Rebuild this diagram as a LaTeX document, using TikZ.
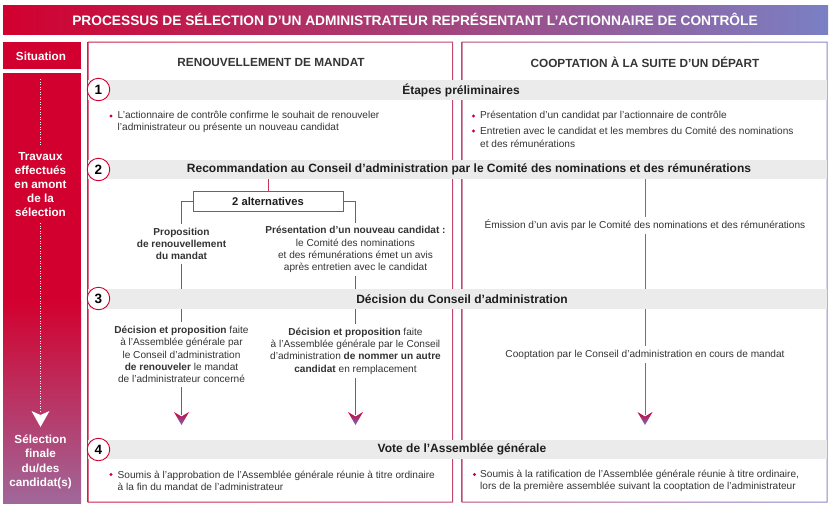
\documentclass[tikz,border=0pt]{standalone}
\usepackage{fontspec}
\setmainfont{Liberation Sans}
\pgfdeclarelayer{bg}\pgfdeclarelayer{fg}
\pgfsetlayers{bg,main,fg}
\definecolor{cred}{RGB}{210,0,46}
\definecolor{cblue}{RGB}{122,128,196}
\definecolor{cmauve}{RGB}{160,104,154}
\definecolor{cband}{RGB}{235,235,235}
\definecolor{ctxt}{RGB}{51,51,51}
\definecolor{cdark}{RGB}{30,30,30}
\definecolor{clineL}{RGB}{200,54,94}
\definecolor{clineR}{RGB}{180,80,122}
\definecolor{cbL1}{RGB}{208,30,72}
\definecolor{cbL2}{RGB}{192,70,110}
\definecolor{cbR1}{RGB}{187,75,120}
\definecolor{cbR2}{RGB}{138,136,200}
\definecolor{carrB}{RGB}{110,110,200}
\begin{document}
\begin{tikzpicture}[x=1pt,y=-1pt,
  body/.style={font=\fontsize{10.1}{12.3}\selectfont, text=ctxt, inner sep=0pt},
  bandtitle/.style={font=\bfseries\fontsize{12}{12}\selectfont, text=cdark, inner sep=0pt},
  band/.style={fill=cband, minimum width=739pt, minimum height=19.5pt, inner sep=0pt},
  badge/.style={circle, draw=cred, fill=white, line width=0.9pt, minimum size=22.5pt, inner sep=0pt, font=\bfseries\fontsize{13.5}{13.5}\selectfont, text=black},
  sidetxt/.style={font=\bfseries\fontsize{11.7}{14.2}\selectfont, text=white, align=center, inner sep=0pt},
  header/.style={font=\bfseries\fontsize{11.8}{13}\selectfont, text=cdark!90, inner sep=0pt},
  connL/.style={draw=clineL, line width=0.9pt},
  connR/.style={draw=clineR, line width=0.9pt},
  bul/.style={fill=cred},
  dotline/.style={white, line width=1.5pt, dash pattern=on 1.2pt off 1.3pt},
  gradarrow/.pic={\shade[top color=cred, bottom color=carrB] (-7.5,0) -- (0,4.5) -- (7.5,0) -- (0,13) -- cycle;},
  whitearrow/.pic={\fill[white] (-9,0) -- (0,4) -- (9,0) -- (0,16) -- cycle;}
]
\useasboundingbox (0,0) rectangle (829,507);
% title bar
\shade[left color=cred, right color=cblue] (3,5) rectangle (828,34);
\node[font=\bfseries\fontsize{13.75}{14}\selectfont, text=white, inner sep=0pt] (title) at (415,19.5) {PROCESSUS DE SÉLECTION D’UN ADMINISTRATEUR REPRÉSENTANT L’ACTIONNAIRE DE CONTRÔLE};
% left column
\fill[cred] (3,42) rectangle (81,69);
\node[sidetxt] (sit) at (41,56) {Situation};
\fill[cred] (3,73) rectangle (81,301);
\shade[top color=cred, bottom color=cmauve] (3,300) rectangle (81,503);
\node[sidetxt] (trav) at (40.5,184.5) {Travaux\\effectués\\en amont\\de la\\sélection};
\node[sidetxt] (selec) at (40.5,462) {Sélection\\finale\\du/des\\candidat(s)};
\coordinate (dtop) at (40.5,79);
\coordinate (dend) at (40.5,413);
\draw[dotline] (dtop) -- ([yshift=6pt]trav.north);
\draw[dotline] ([yshift=-6pt]trav.south) -- (dend);
\pic at (40.5,411) {whitearrow};
% panel borders
\begin{pgfonlayer}{bg}
\shade[left color=cbL1, right color=cbL2, even odd rule] (87.5,41.5) rectangle (453,502.5) (88.5,42.5) rectangle (452,501.5);
\shade[left color=cbR1, right color=cbR2, even odd rule] (461.5,41.5) rectangle (827.5,502.5) (462.5,42.5) rectangle (826.5,501.5);
\end{pgfonlayer}
% bands
\node[band] (b1) at (457.5,90) {};
\node[band] (b2) at (457.5,169.5) {};
\node[band] (b3) at (457.5,298.75) {};
\node[band] (b4) at (457.5,449.5) {};
\node[bandtitle] (t1) at (461,90.5) {Étapes préliminaires};
\node[bandtitle] (t2) at (469,169.5) {Recommandation au Conseil d’administration par le Comité des nominations et des rémunérations};
\node[bandtitle] (t3) at (462,298.75) {Décision du Conseil d’administration};
\node[bandtitle] (t4) at (462,449.5) {Vote de l’Assemblée générale};
\begin{pgfonlayer}{fg}
\node[badge] (n1) at (98.5,89.5) {1};
\node[badge] (n2) at (98.5,169.5) {2};
\node[badge] (n3) at (98.5,298.5) {3};
\node[badge] (n4) at (98.5,449.5) {4};
\end{pgfonlayer}
% headers
\node[header] (hL) at (271,62) {RENOUVELLEMENT DE MANDAT};
\node[header] (hR) at (645,62) {COOPTATION À LA SUITE D’UN DÉPART};
% step 1
\fill[bul] (111,116) circle (1.6);
\node[body, anchor=west, align=left] (s1L) at (117.5,122.2) {L’actionnaire de contrôle confirme le souhait de renouveler\\l’administrateur ou présente un nouveau candidat};
\fill[bul] (473.5,116) circle (1.6);
\fill[bul] (473.5,131) circle (1.6);
\node[body, anchor=west] (s1Ra) at (480,116) {Présentation d’un candidat par l’actionnaire de contrôle};
\node[body, anchor=west, align=left] (s1Rb) at (480,137.2) {Entretien avec le candidat et les membres du Comité des nominations\\et des rémunérations};
% step 2
\node[draw=clineL, line width=0.9pt, minimum width=150pt, minimum height=20pt, inner sep=0pt, font=\bfseries\fontsize{11.2}{12}\selectfont, text=cdark, fill=white] (alt) at (268,201) {2 alternatives};
\node[body, align=center, inner ysep=3.5pt] (p2L) at (181.5,244) {\textbf{Proposition}\\\textbf{de renouvellement}\\\textbf{du mandat}};
\node[body, align=center, inner ysep=3.5pt] (p2R) at (355.5,249.5) {\textbf{Présentation d’un nouveau candidat :}\\le Comité des nominations\\et des rémunérations émet un avis\\après entretien avec le candidat};
\node[body, inner ysep=2.5pt] (emis) at (645,225.5) {Émission d’un avis par le Comité des nominations et des rémunérations};
% step 3
\node[body, align=center, inner ysep=4pt] (p3L) at (181.5,354.5) {\textbf{Décision et proposition} faite\\à l’Assemblée générale par\\le Conseil d’administration\\\textbf{de renouveler} le mandat\\de l’administrateur concerné};
\node[body, align=center, inner ysep=4pt] (p3R) at (355.5,351) {\textbf{Décision et proposition} faite\\à l’Assemblée générale par le Conseil\\d’administration \textbf{de nommer un autre}\\\textbf{candidat} en remplacement};
\node[body, inner ysep=4pt] (coop) at (645,354.5) {Cooptation par le Conseil d’administration en cours de mandat};
\coordinate (aL) at (181.5,415);
\coordinate (aM) at (355.5,415);
\coordinate (aR) at (645,415);
\pic at (181.5,412) {gradarrow};
\pic at (355.5,412) {gradarrow};
\pic at (645,412) {gradarrow};
% step 4
\fill[bul] (111,474.5) circle (1.6);
\node[body, anchor=west, align=left] (s4L) at (117.5,480.7) {Soumis à l’approbation de l’Assemblée générale réunie à titre ordinaire\\à la fin du mandat de l’administrateur};
\fill[bul] (474.5,474.5) circle (1.6);
\node[body, anchor=west, align=left] (s4R) at (480,480.7) {Soumis à la ratification de l’Assemblée générale réunie à titre ordinaire,\\lors de la première assemblée suivant la cooptation de l’administrateur};
% connectors
\begin{pgfonlayer}{bg}
\draw[connL] (alt.north) -- (alt.north |- b2.south);
\draw[connL] (alt.west) -| (p2L.north);
\draw[connL] (alt.east) -| (p2R.north);
\draw[connL] (p2L.south) -- (p2L.south |- b3.north);
\draw[connL] (p2R.south) -- (p2R.south |- b3.north);
\draw[connL] (p3L.north |- b3.south) -- (p3L.north);
\draw[connL] (p3R.north |- b3.south) -- (p3R.north);
\draw[connL] (p3L.south) -- (aL);
\draw[connL] (p3R.south) -- (aM);
\draw[connR] (emis.north |- b2.south) -- (emis.north);
\draw[connR] (emis.south) -- (emis.south |- b3.north);
\draw[connR] (coop.north |- b3.south) -- (coop.north);
\draw[connR] (coop.south) -- (aR);
\end{pgfonlayer}
\end{tikzpicture}
\end{document}
